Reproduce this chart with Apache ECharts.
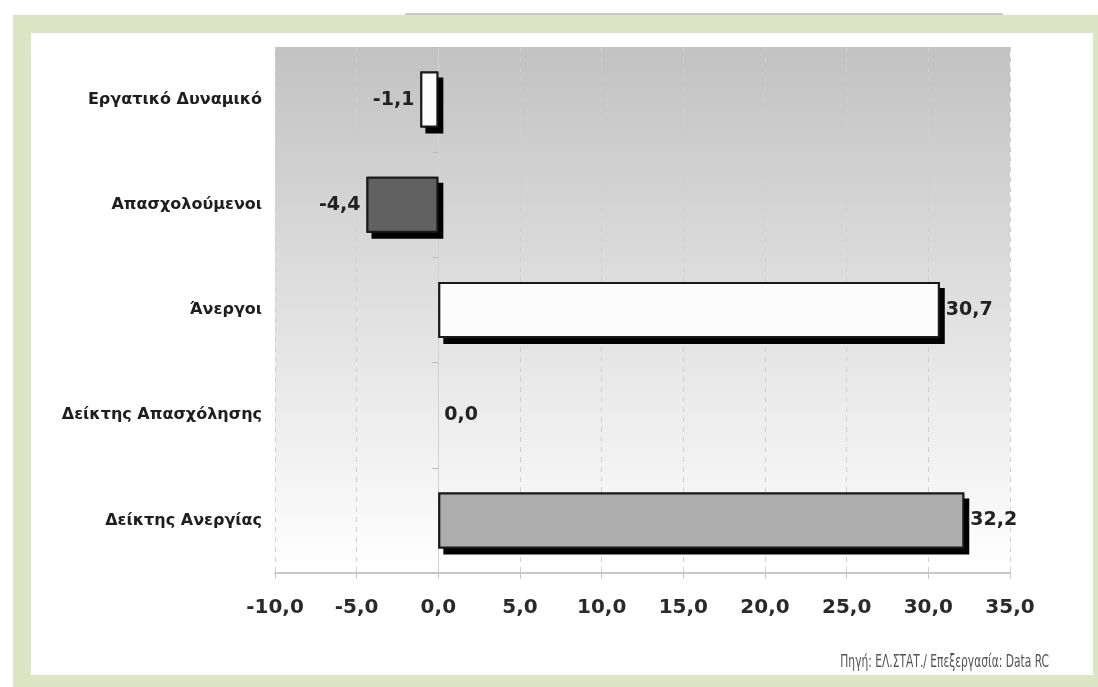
<html>
  <head>
    <meta charset="utf-8">
    <script src="https://cdnjs.cloudflare.com/ajax/libs/echarts/6.0.0/echarts.min.js"></script>
    <style>
      body { margin: 0; background-color: #fff; overflow: hidden; }
      .frame { position: absolute; left: 13px; top: 15px; width: 1062px; height: 642px;
               border: 18px solid #dce6c4; background-color: #fff; }
      .topline { position: absolute; left: 405px; top: 13px; width: 598px; height: 2px; background-color: #c9c9c9; }
      #chart { position: absolute; left: 0; top: 0; width: 1098px; height: 687px; }
    </style>
  </head>
  <body>
    <div class="topline"></div>
    <div class="frame"></div>
    <div id="chart"></div>
  <script>
    // categories top to bottom
    var categories = ['Εργατικό Δυναμικό', 'Απασχολούμενοι', 'Άνεργοι', 'Δείκτης Απασχόλησης', 'Δείκτης Ανεργίας'];
    var values = [-1.1, -4.4, 30.7, 0.0, 32.2];
    var barColors = ['#fcfcfc', '#616161', '#fcfcfc', '#fcfcfc', '#adadad'];
    var xTicks = [-10, -5, 0, 5, 10, 15, 20, 25, 30, 35];
    var source = 'Πηγή: ΕΛ.ΣΤΑΤ./ Επεξεργασία: Data RC';

    function fmt(v) {
        return v.toFixed(1).replace('.', ',');
    }

    var chartDom = document.getElementById('chart');
    var chart = echarts.init(chartDom);

    // front bars (fill + border + label) and a shadow layer behind them
    var front = [];
    var back = [];
    for (let i in values) {
        front.push({
            value: values[i],
            itemStyle: { color: barColors[i], borderWidth: values[i] === 0 ? 0 : 2 },
            label: { position: values[i] < 0 ? 'left' : 'right' }
        });
        back.push(values[i]);
    }

    var option = {
        animation: false,
        graphic: [{
            // narrow source note, bottom right
            type: 'text', right: 49, top: 654, scaleX: 0.7,
            style: { text: source, font: '17px "DejaVu Sans Condensed"', fill: '#555' }
        }],
        grid: {
            left: 275, right: 88, top: 47, bottom: 114,
            show: true, borderWidth: 0,
            backgroundColor: new echarts.graphic.LinearGradient(0, 0, 0, 1, [
                { offset: 0, color: '#c2c2c2' },
                { offset: 1, color: '#ffffff' }
            ])
        },
        xAxis: {
            type: 'value',
            min: xTicks[0], max: xTicks[xTicks.length - 1], interval: 5,
            axisLine: { show: true, onZero: false, lineStyle: { color: '#c8c8c8', width: 2 } },
            axisTick: { show: true, length: 6, lineStyle: { color: '#c8c8c8' } },
            splitLine: { show: true, lineStyle: { color: '#cfcfcf', type: [5, 5] } },
            axisLabel: {
                margin: 25, formatter: fmt,
                fontFamily: 'DejaVu Sans', fontWeight: 'bold', fontSize: 20, color: '#2a2a2a'
            }
        },
        yAxis: [{
            type: 'category', inverse: true, data: categories,
            axisLine: { show: false, onZero: false },
            axisTick: { show: false },
            axisLabel: {
                margin: 13,
                fontFamily: 'DejaVu Sans', fontWeight: 'bold', fontSize: 16, color: '#1e1e1e'
            }
        }, {
            type: 'category', inverse: true, data: categories, position: 'left',
            axisLine: { show: true, onZero: true, lineStyle: { color: '#d2d2d2' } },
            axisTick: { show: true, length: 6, lineStyle: { color: '#bbb' } },
            axisLabel: { show: false }
        }],
        series: [{
            type: 'bar',
            data: back,
            barWidth: 56,
            silent: true,
            itemStyle: {
                color: '#000',
                shadowColor: '#000', shadowBlur: 0, shadowOffsetX: 5, shadowOffsetY: 6
            }
        }, {
            type: 'bar',
            data: front,
            barWidth: 56,
            barGap: '-100%',
            itemStyle: { borderColor: '#1a1a1a' },
            label: {
                show: true, distance: 6,
                formatter: function (p) { return fmt(p.value); },
                fontFamily: 'DejaVu Sans', fontWeight: 'bold', fontSize: 19, color: '#222'
            }
        }]
    };
    chart.setOption(option);
  </script>
  </body>
</html>
